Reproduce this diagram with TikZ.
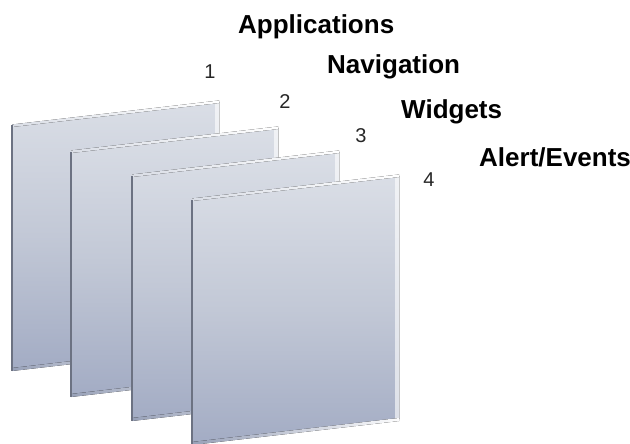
\documentclass[tikz,border=0pt]{standalone}
\usepackage{fontspec}
\setmainfont{Liberation Sans}
\definecolor{sheettop}{HTML}{DADEE6}
\definecolor{sheetmid}{HTML}{C2C8D6}
\definecolor{sheetbot}{HTML}{A3ACC4}
\definecolor{sheetedge}{HTML}{6C7282}
\definecolor{sheetlow}{HTML}{98A1B8}
\tikzset{
  sheetbody/.style={top color=sheettop, bottom color=sheetbot, middle color=sheetmid},
  toplight/.style={left color=sheettop, right color=white},
  lowlight/.style={left color=sheetlow, right color=white!92!sheettop},
  sidelight/.style={top color=white!60!sheettop, bottom color=white!45!sheetmid},
  edgeline/.style={draw=sheetedge, line width=2pt},
  title/.style={font=\fontsize{26}{28}\selectfont\bfseries, inner sep=0pt, anchor=base west},
  digit/.style={font=\fontsize{20}{22}\selectfont, text=black!85, inner sep=0pt}
}
% one sheet: #1 left x, #2 top y (pixel units, y downwards)
\newcommand\drawsheet[2]{%
  \begin{scope}[shift={(#1,#2)}]
    \fill[sheetbody] (0,0) -- (207,-24) -- (207,219) -- (0,243) -- cycle;
    \fill[sidelight] (203,-23.5) -- (207,-24) -- (207,219) -- (203,219.5) -- cycle;
    \fill[toplight] (0,-1.5) -- (207,-25.5) -- (207,-23) -- (0,1) -- cycle;
    \fill[lowlight] (0,242) -- (207,218) -- (207,221) -- (0,245) -- cycle;
    \draw[edgeline] (0,-0.5) -- (0,245);
  \end{scope}}
\begin{document}
\begin{tikzpicture}[x=1pt,y=-1pt]
  \useasboundingbox (0,0) rectangle (630,444);
  % stacked sheets, back to front
  \drawsheet{12}{126}
  \drawsheet{71}{152}
  \drawsheet{132}{176}
  \drawsheet{192}{200}
  % layer titles
  \node[title] (apps) at (238,34) {Applications};
  \node[title] (nav) at (327,74) {Navigation};
  \node[title] (widg) at (401,118) {Widgets};
  \node[title] (alert) at (479,167) {Alert/Events};
  % layer numbers
  \node[digit] (n1) at (210,72) {1};
  \node[digit] (n2) at (285,102) {2};
  \node[digit] (n3) at (361,136) {3};
  \node[digit] (n4) at (429,180) {4};
\end{tikzpicture}
\end{document}
